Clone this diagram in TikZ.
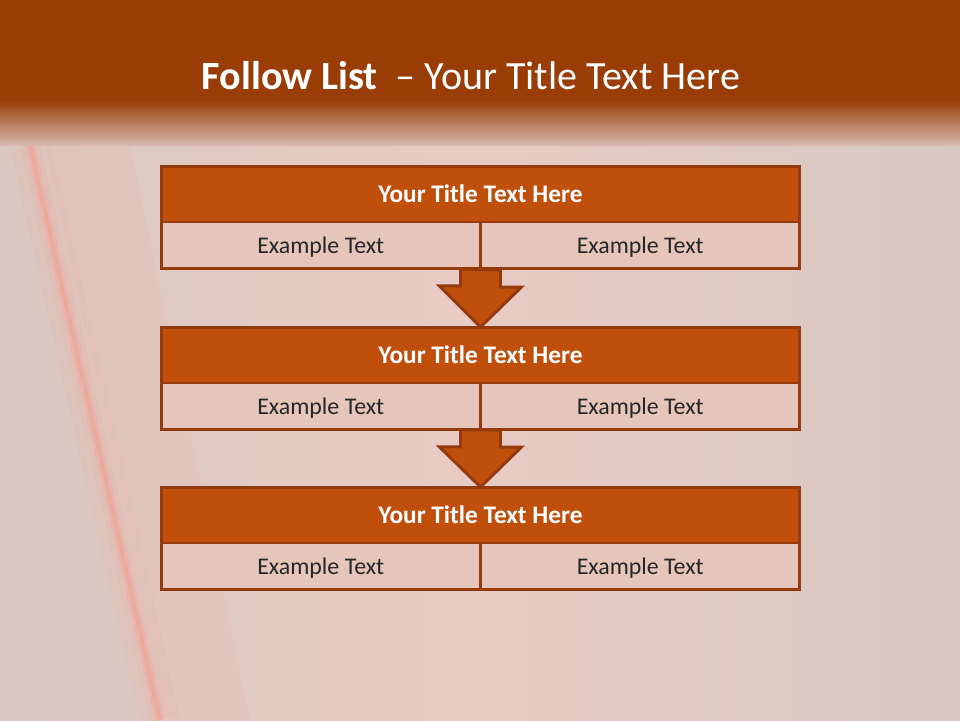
\documentclass[tikz,border=0pt]{standalone}
\usepackage{fontspec}
\setmainfont{Carlito}
\usetikzlibrary{calc}
\definecolor{hdr}{RGB}{154,60,6}
\definecolor{band}{RGB}{192,79,11}
\definecolor{edge}{RGB}{148,58,12}
\definecolor{cellbg}{RGB}{230,197,187}
\definecolor{bgleft}{RGB}{218,200,194}
\definecolor{bgmid}{RGB}{232,203,196}
\definecolor{bgright}{RGB}{216,200,195}
\definecolor{fadeend}{RGB}{214,184,176}
\definecolor{streak}{RGB}{250,150,135}
\begin{document}
\begin{tikzpicture}[x=0.02cm,y=-0.02cm,
    head/.style={draw=edge,line width=1.7pt,fill=band,text=white,outer sep=0pt,
      font=\fontsize{14.4}{16}\selectfont\bfseries,minimum width=12.78cm,
      minimum height=1.12cm,inner sep=0pt},
    cell/.style={draw=edge,line width=1.7pt,fill=cellbg,text=black!85,outer sep=0pt,
      font=\fontsize{13.6}{16}\selectfont,minimum width=6.39cm,
      minimum height=0.94cm,inner sep=0pt,text depth=0pt},
    flow/.style={draw=edge,line width=1.7pt,fill=band,line join=miter}]
    \useasboundingbox (0,0) rectangle (960,720);
    % backdrop
    \shade[left color=bgleft,right color=bgright,middle color=bgmid] (0,0) rectangle (960,720);
    \fill[bgleft,opacity=.6] (0,145) -- (20,145) -- (150,720) -- (0,720) -- cycle;
    \foreach \w/\o in {40/.07,20/.12,10/.2,4/.35}{
      \draw[streak,line width=\w*0.02cm,opacity=\o] (30,145) -- (160,720);
    }
    \fill[streak,opacity=.08] (45,145) -- (130,145) -- (250,720) -- (170,720) -- cycle;
    \fill[hdr] (0,0) rectangle (960,100);
    \shade[top color=hdr,bottom color=fadeend] (0,100) rectangle (960,145);
    \node[font=\fontsize{22.8}{28}\selectfont,text=white,anchor=base] (ttl) at (471,89)
      {\textbf{Follow List}\ \ – Your Title Text Here};
    % the three steps
    \foreach \i/\y in {1/194,2/355,3/515}{
      \node[head] (t\i) at (480.5,\y) {Your Title Text Here};
      \node[cell,anchor=north east] (a\i) at (t\i.south) {Example Text};
      \node[cell,anchor=north west] (b\i) at (t\i.south) {Example Text};
    }
    % arrows between steps
    \foreach \i/\j in {1/2,2/3}{
      \draw[flow] ($(a\i.south east)+(-20,0)$) -- ++(0,17) -- ++(-21,0)
        -- (t\j.north) -- ++(41,-40) -- ++(-21,0) -- ++(0,-17) -- cycle;
    }
  \end{tikzpicture}
\end{document}
